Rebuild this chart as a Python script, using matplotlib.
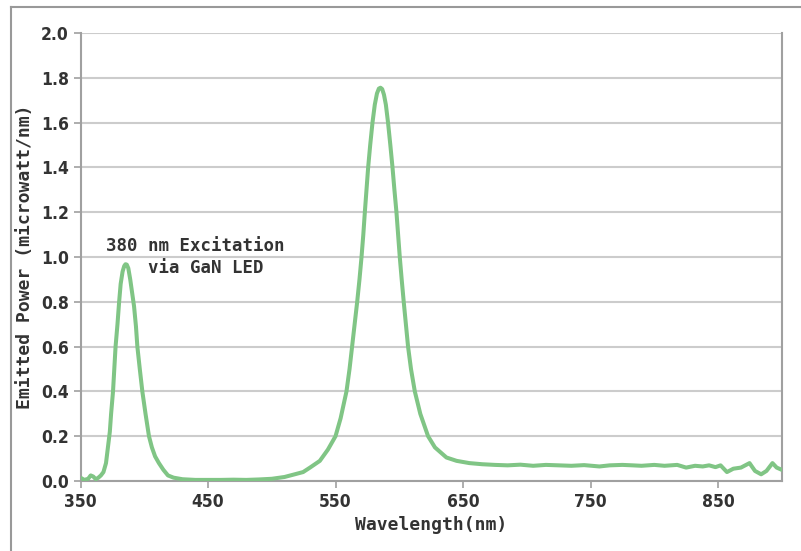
import matplotlib
matplotlib.use("Agg")
import matplotlib.pyplot as plt
from matplotlib.lines import Line2D
from matplotlib import font_manager

# Emission spectrum
wavelength = [350, 353, 356, 358, 360, 362, 364, 366, 368, 370, 371.5, 373, 374, 375.5,
              376.5, 377.5, 379, 380.3, 381.5, 383, 384.3, 385.3, 386.3, 387.5, 389, 390.5, 392,
              393.5, 394.6, 396.5, 398.5, 401, 403.7, 406, 408.5, 411.5, 415, 418.6, 423,
              430, 440, 450, 460, 470, 480, 490, 500, 510, 518, 524.6, 530, 537.7, 544,
              550, 554, 558.6, 561, 563, 565, 567, 568.8, 570.4, 571.8, 573, 574.3, 575.6,
              577.2, 579, 580.8, 582.5, 584, 585.3, 586.6, 588, 589.5, 591.2, 593, 594.7, 596.2,
              597.8, 599.1, 600.4, 601.9, 603.5, 605.2, 606.9, 609.2, 612.2, 616.5, 622.6,
              628, 637, 645, 655, 665, 675, 685, 695, 705, 715, 725, 735, 745, 757, 765,
              775, 783, 790, 800, 808, 818, 825, 832, 838, 843, 848, 852, 857, 862, 868,
              874.7, 879, 883.8, 888, 892.7, 896, 900]
power = [0.015, 0.005, 0.01, 0.025, 0.02, 0.008, 0.015, 0.025, 0.04, 0.08, 0.15, 0.22, 0.30,
         0.40, 0.50, 0.60, 0.70, 0.80, 0.88, 0.935, 0.96, 0.968, 0.966, 0.95, 0.90, 0.84, 0.78,
         0.69, 0.60, 0.50, 0.40, 0.30, 0.20, 0.15, 0.11, 0.08, 0.05, 0.025, 0.015,
         0.008, 0.005, 0.005, 0.005, 0.006, 0.005, 0.007, 0.01, 0.018, 0.03, 0.04, 0.06,
         0.09, 0.14, 0.20, 0.28, 0.40, 0.50, 0.60, 0.70, 0.80, 0.90, 1.00, 1.10, 1.20,
         1.30, 1.40, 1.50, 1.60, 1.68, 1.73, 1.752, 1.756, 1.75, 1.725, 1.68, 1.60, 1.50,
         1.40, 1.30,
         1.20, 1.10, 1.00, 0.90, 0.80, 0.70, 0.60, 0.50, 0.40, 0.30, 0.20, 0.15, 0.105,
         0.09, 0.08, 0.075, 0.072, 0.07, 0.073, 0.068, 0.072, 0.07, 0.068, 0.071, 0.065,
         0.07, 0.072, 0.07, 0.068, 0.072, 0.068, 0.072, 0.06, 0.068, 0.065, 0.07, 0.062,
         0.07, 0.04, 0.055, 0.06, 0.08, 0.045, 0.03, 0.045, 0.08, 0.06, 0.05]

xticks = [350, 450, 550, 650, 750, 850]
yticks = [0.0, 0.2, 0.4, 0.6, 0.8, 1.0, 1.2, 1.4, 1.6, 1.8, 2.0]

# narrow font for tick labels if one is around
names = {f.name for f in font_manager.fontManager.ttflist}
narrow = "Liberation Sans Narrow" if "Liberation Sans Narrow" in names else "DejaVu Sans"

text_color = "#333333"
fig = plt.figure(figsize=(8.01, 5.51), dpi=100)
ax = fig.add_axes([0.1005, 0.127, 0.8755, 0.813])

ax.plot(wavelength, power, color="#80c585", linewidth=2.9, solid_capstyle="round",
        solid_joinstyle="round", zorder=3)

ax.set_xlim(350, 900)
ax.set_ylim(0, 2.0)
ax.set_xticks(xticks)
ax.set_yticks(yticks)
ax.set_yticklabels([f"{v:.1f}" for v in yticks])
ax.yaxis.grid(True, color="#cccccc", linewidth=1.5)
ax.set_axisbelow(True)

for s in ax.spines.values():
    s.set_color("#a0a0a0")
    s.set_linewidth(1.5)
ax.spines["top"].set_visible(False)

ax.tick_params(axis="both", colors="#a0a0a0", length=5, width=1.2)
for lab in ax.get_xticklabels() + ax.get_yticklabels():
    lab.set_family(narrow)
    lab.set_stretch("condensed")
    lab.set_fontsize(12.5)
    lab.set_color(text_color)
    lab.set_fontweight("bold")

ax.set_xlabel("Wavelength(nm)", family="DejaVu Sans Mono", fontsize=13, color=text_color,
              fontweight="bold", labelpad=4)
ax.set_ylabel("Emitted Power (microwatt/nm)", family="DejaVu Sans Mono", fontsize=13,
              color=text_color, fontweight="bold", labelpad=5)

ax.text(440, 1.0, "380 nm Excitation\n  via GaN LED", family="DejaVu Sans Mono", fontsize=12.5,
        color=text_color, fontweight="bold", ha="center", va="center", linespacing=1.35)

# outer frame (only top and left edges are visible in the reference)
fig.add_artist(Line2D([11 / 801, 1], [1 - 7 / 551, 1 - 7 / 551], transform=fig.transFigure,
                      color="#999999", linewidth=1.5))
fig.add_artist(Line2D([11 / 801, 11 / 801], [0, 1 - 7 / 551], transform=fig.transFigure,
                      color="#999999", linewidth=1.5))

fig.savefig("out.png", dpi=100)
